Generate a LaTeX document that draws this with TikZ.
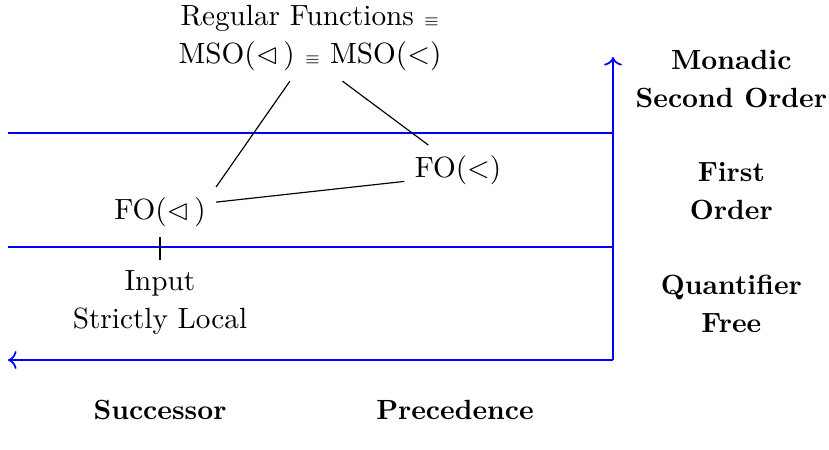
\documentclass[tikz,border=0pt]{standalone}
\usepackage{amssymb}
\usetikzlibrary{arrows.meta,positioning,calc}
\newcommand{\eqv}{{\tiny$\equiv$}}

\begin{document}
\begin{tikzpicture}[x=1cm,y=1cm,
  axis/.style={blue,semithick},
  class/.style={align=center},
  level/.style={align=center,font=\fontsize{9.5}{12}\selectfont\bfseries},
  link/.style={black,thin}]
  \useasboundingbox (0,0) rectangle (9.964,-5.397);

  % axes of the hierarchy
  \coordinate (corner) at (7.368,-4.327);
  \coordinate (top) at (7.368,-0.685);
  \coordinate (left) at (0.096,-4.327);
  \coordinate (msoL) at (0.096,-1.599);
  \coordinate (msoR) at (7.368,-1.599);
  \coordinate (foL) at (0.096,-2.969);
  \coordinate (foR) at (7.368,-2.969);
  \draw[axis,->] (corner) -- (top);
  \draw[axis,->] (corner) -- (left);
  \draw[axis] (msoL) -- (msoR);
  \draw[axis] (foL) -- (foR);

  % level labels
  \node[level] (mso) at (8.79,-0.95) {Monadic\\[1pt]Second Order};
  \node[level] (fo) at (8.79,-2.296) {First\\[1pt]Order};
  \node[level] (qf) at (8.79,-3.654) {Quantifier\\[1pt]Free};
  \node[level] (succ) at (1.923,-4.93) {Successor};
  \node[level] (prec) at (5.469,-4.93) {Precedence};

  % classes
  \node[class] (reg) at (3.726,-0.457) {Regular Functions \eqv\\[1pt]MSO($\lhd$\,) \eqv{} MSO($<$)};
  \node[class] (fosucc) at (1.923,-2.548) {FO($\lhd$\,)};
  \node[class] (foprec) at (5.505,-2.043) {FO($<$)};
  \node[class] (isl) at (1.923,-3.63) {Input\\[1pt]Strictly Local};

  \draw[link] (reg.245) -- (fosucc.north east);
  \draw[link] (reg.307) -- (foprec.140);
  \draw[link] (fosucc.10) -- (foprec.192);
  \draw[link] (fosucc.south) -- (isl.north);
\end{tikzpicture}
\end{document}
